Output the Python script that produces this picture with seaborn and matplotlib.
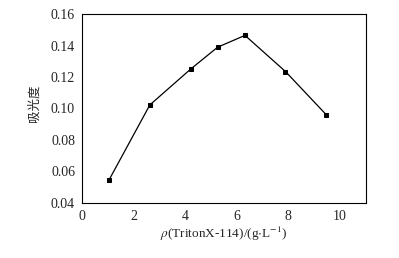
import matplotlib
matplotlib.use("Agg")
import matplotlib.pyplot as plt
import seaborn as sns
import pandas as pd

conc = [1.05, 2.63, 4.21, 5.26, 6.32, 7.89, 9.47]
absorbance = [0.0545, 0.1022, 0.1250, 0.1390, 0.1465, 0.1235, 0.0960]
xticks = [0, 2, 4, 6, 8, 10]
yticks = [0.04, 0.06, 0.08, 0.10, 0.12, 0.14, 0.16]

sns.set_style("white")
plt.rcParams['font.family'] = ['Liberation Serif', 'Noto Sans CJK SC']
plt.rcParams['mathtext.fontset'] = 'stix'

df = pd.DataFrame({"x": conc, "y": absorbance})

fig = plt.figure(figsize=(3.99, 2.58), dpi=100)
ax = fig.add_axes([0.2055, 0.2145, 0.711, 0.7305])
sns.lineplot(data=df, x="x", y="y", ax=ax, color="black", linewidth=0.9,
             marker="s", markersize=3.5, markeredgecolor="black",
             markerfacecolor="black")

ax.set_xlim(0, 11)
ax.set_ylim(0.04, 0.16)
ax.set_xticks(xticks)
ax.set_xticklabels([str(t) for t in xticks])
ax.set_yticks(yticks)
ax.set_yticklabels([f"{t:.2f}" for t in yticks])
ax.tick_params(axis='x', direction='in', length=3, width=0.8, labelsize=10, pad=5)
ax.tick_params(axis='y', direction='out', length=3, width=0.8, labelsize=10, pad=2)
for s in ax.spines.values():
    s.set_color("black")
    s.set_linewidth(0.8)
    s.set_visible(True)

ax.set_xlabel(r"$\rho$(TritonX-114)/(g$\cdot$L$^{-1}$)", fontsize=9.5, labelpad=2)
ax.set_ylabel("吸光度", fontsize=9, family=['Noto Sans CJK SC'])
ax.yaxis.set_label_coords(-0.145, 0.53)

fig.savefig("out.png", dpi=100)
